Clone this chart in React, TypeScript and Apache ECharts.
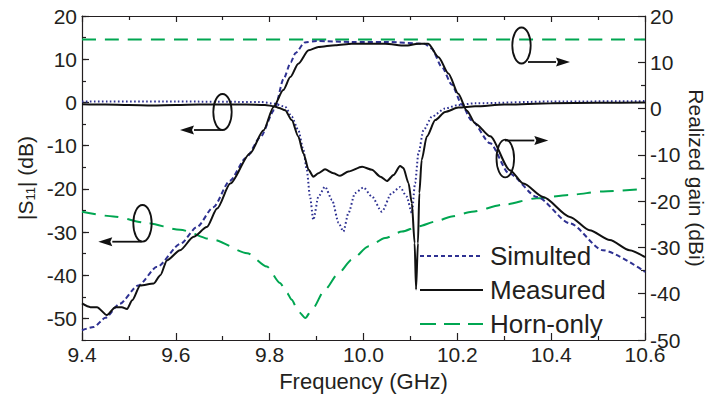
import React, { useEffect, useRef } from 'react';
import * as echarts from 'echarts';

// ---- Data ----
// Simulated realized gain (right axis, dBi)
const simGainF = [9.40, 9.425, 9.45, 9.48, 9.52, 9.56, 9.61, 9.645, 9.68, 9.715, 9.75, 9.78, 9.81, 9.83, 9.845, 9.855, 9.875, 9.90, 9.975, 10.045, 10.13, 10.145, 10.167, 10.188, 10.21, 10.23, 10.27, 10.31, 10.37, 10.44, 10.51, 10.60];
const simGainV = [-47.9, -47.2, -45.2, -42.2, -38.2, -34.2, -29.2, -25.6, -21.3, -15.6, -10.6, -6.2, -0.3, 6.5, 10.0, 12.0, 14.3, 14.6, 14.4, 14.4, 14.0, 13.0, 9.0, 5.2, 0.8, -2.5, -7.5, -14.0, -19.1, -24.8, -30.6, -35.3];

// Measured realized gain (right axis, dBi)
const measGainF = [9.40, 9.418, 9.432, 9.453, 9.471, 9.485, 9.496, 9.507, 9.524, 9.553, 9.567, 9.581, 9.609, 9.638, 9.666, 9.688, 9.716, 9.758, 9.787, 9.808, 9.829, 9.844, 9.861, 9.883, 9.904, 9.94, 9.975, 10.011, 10.046, 10.089, 10.117, 10.138, 10.16, 10.181, 10.202, 10.22, 10.238, 10.27, 10.312, 10.341, 10.383, 10.44, 10.482, 10.525, 10.567, 10.60];
const measGainV = [-42.1, -42.9, -42.9, -44.6, -42.9, -42.9, -43.3, -41.4, -38.2, -37.8, -36.0, -32.8, -30.6, -27.7, -25.6, -21.6, -16.2, -9.7, -4.7, 0.3, 4.0, 6.8, 9.7, 12.6, 13.3, 13.7, 14.0, 14.0, 14.0, 13.6, 14.0, 14.0, 11.1, 7.6, 3.2, -0.4, -3.2, -6.0, -13.3, -16.2, -19.1, -23.4, -26.3, -28.4, -30.6, -32.1];

// Simulated |S11| (left axis, dB)
const simS11F = [9.40, 9.60, 9.78, 9.81, 9.833, 9.847, 9.861, 9.872, 9.879, 9.886, 9.893, 9.904, 9.918, 9.933, 9.947, 9.957, 9.968, 9.982, 10.00, 10.018, 10.039, 10.06, 10.078, 10.092, 10.103, 10.11, 10.117, 10.128, 10.146, 10.174, 10.202, 10.238, 10.40, 10.60];
const simS11V = [0.2, 0.2, 0.1, -0.3, -1.0, -3.3, -6.4, -11.0, -15.6, -21.8, -27.2, -21.8, -19.5, -22.6, -27.9, -29.9, -25.6, -21.0, -19.7, -21.8, -25.3, -21.0, -19.6, -21.8, -25.6, -18.7, -11.8, -6.4, -3.3, -1.4, -0.6, -0.2, 0.2, 0.3];

// Measured |S11| (left axis, dB)
const measS11F = [9.40, 9.45, 9.50, 9.55, 9.60, 9.65, 9.70, 9.75, 9.79, 9.81, 9.82, 9.833, 9.847, 9.861, 9.872, 9.883, 9.893, 9.904, 9.918, 9.936, 9.95, 9.968, 9.997, 10.018, 10.036, 10.05, 10.064, 10.078, 10.085, 10.096, 10.103, 10.109, 10.112, 10.116, 10.119, 10.124, 10.135, 10.153, 10.174, 10.202, 10.238, 10.30, 10.40, 10.50, 10.60];
const measS11V = [-0.4, -0.5, -0.6, -0.7, -0.6, -0.5, -0.5, -0.5, -0.6, -0.9, -1.3, -1.8, -4.1, -7.9, -11.8, -15.6, -17.2, -16.4, -15.5, -16.4, -17.0, -16.0, -14.9, -15.6, -17.2, -18.2, -16.8, -14.7, -15.2, -18.7, -23.3, -32.6, -43.3, -32.6, -21.0, -13.3, -7.9, -4.1, -2.2, -1.2, -0.9, -0.5, -0.2, -0.1, 0.0];

// Horn-only |S11| (left axis, dB)
const hornS11F = [9.40, 9.467, 9.538, 9.609, 9.68, 9.752, 9.794, 9.822, 9.837, 9.847, 9.861, 9.876, 9.89, 9.918, 9.947, 9.975, 10.011, 10.046, 10.082, 10.117, 10.153, 10.188, 10.231, 10.298, 10.369, 10.44, 10.511, 10.60];
const hornS11V = [-25.3, -26.4, -27.9, -29.5, -31.8, -34.9, -38.0, -41.8, -44.1, -45.7, -48.4, -49.9, -48.0, -43.3, -39.5, -36.4, -33.3, -31.4, -29.9, -28.7, -27.6, -26.4, -25.3, -23.7, -22.2, -21.4, -20.6, -20.0];

// Horn-only realized gain (right axis, dBi)
const hornGainF = [9.40, 10.00, 10.60];
const hornGainV = [14.9, 14.9, 14.9];

const legendNames = ['Simulted', 'Measured', 'Horn-only'];
const leftLabelValues = [-50, -40, -30, -20, -10, 0, 10, 20];

const zip = (f: number[], v: number[]) => f.map((x, i) => [x, v[i]]);

export default function App() {
  const ref = useRef<HTMLDivElement>(null);
  useEffect(() => {
    if (!ref.current) return;
    const chart = echarts.init(ref.current, null, { renderer: 'svg' });
    const FONT = "'Liberation Sans', Arial, Helvetica, sans-serif";
    const TXT = '#231f20';
    const BLUE = '#2e3192';
    const GREEN = '#00a651';
    const BLACK = '#111111';
    const axisLine = { show: true, onZero: false, lineStyle: { color: TXT, width: 1.2 } };
    const tickStyle = { color: TXT, width: 1.2 };
    const labelStyle = { fontSize: 21, color: TXT, fontFamily: FONT };

    const lineSeries = (name: string, data: number[][], yAxisIndex: number, color: string, type: any, z = 2) => ({
      name,
      type: 'line',
      xAxisIndex: 0,
      yAxisIndex,
      data,
      symbol: 'none',
      smooth: 0.25,
      smoothMonotone: 'x',
      z,
      lineStyle: { color, width: 2, type },
      itemStyle: { color },
    });

    const ellipse = (cx: number, cy: number, rx: number, ry: number) => ({
      type: 'ellipse',
      shape: { cx, cy, rx, ry },
      style: { fill: 'transparent', stroke: BLACK, lineWidth: 1.8 },
      z: 100,
    });
    const arrow = (x1: number, x2: number, y: number) => {
      const dir = x2 > x1 ? 1 : -1;
      const hb = x2 - dir * 14;
      return [
        { type: 'line', shape: { x1, y1: y, x2: hb, y2: y }, style: { stroke: BLACK, lineWidth: 1.8 }, z: 100 },
        { type: 'polygon', shape: { points: [[x2, y], [hb, y - 4.5], [hb + dir * 2, y], [hb, y + 4.5]] }, style: { fill: BLACK }, z: 100 },
      ];
    };

    const legendColors = [BLUE, BLACK, GREEN];
    const legendDash: any[] = [[4, 3], null, [16, 8]];
    const legendY = [256, 290, 324];
    const legendGraphics: any[] = [];
    legendNames.forEach((n, i) => {
      legendGraphics.push({
        type: 'line',
        shape: { x1: 420, y1: legendY[i], x2: 483, y2: legendY[i] },
        style: { stroke: legendColors[i], lineWidth: 2, lineDash: legendDash[i] || undefined },
        z: 100,
      });
      legendGraphics.push({
        type: 'text',
        x: 490,
        y: legendY[i],
        style: { text: n, fontSize: 26, fontFamily: FONT, fill: TXT, verticalAlign: 'middle', align: 'left' },
        z: 100,
      });
    });

    const option: any = {
      animation: false,
      backgroundColor: '#ffffff',
      grid: { left: 82, right: 64, top: 16, bottom: 60, outerBoundsMode: 'none' },
      xAxis: [
        {
          type: 'value', min: 9.4, max: 10.6, interval: 0.2, position: 'bottom',
          axisLine,
          axisTick: { inside: true, length: 7, lineStyle: tickStyle },
          minorTick: { show: true, splitNumber: 2, length: 4, lineStyle: tickStyle },
          splitLine: { show: false },
          axisLabel: { ...labelStyle, margin: 4, formatter: (v: number) => v.toFixed(1) },
          name: 'Frequency (GHz)', nameLocation: 'middle', nameGap: 30, nameMoveOverlap: false,
          nameTextStyle: { fontSize: 22, color: TXT, fontFamily: FONT },
        },
        {
          type: 'value', min: 9.4, max: 10.6, interval: 0.2, position: 'top',
          axisLine,
          axisTick: { inside: true, length: 6, lineStyle: tickStyle },
          minorTick: { show: true, splitNumber: 2, length: 4, lineStyle: tickStyle },
          splitLine: { show: false },
          axisLabel: { show: false },
        },
      ],
      yAxis: [
        {
          type: 'value', min: -55, max: 20, interval: 5, position: 'left',
          axisLine,
          axisTick: { inside: true, length: 7, lineStyle: tickStyle, customValues: leftLabelValues },
          splitLine: { show: false },
          axisLabel: {
            ...labelStyle, margin: 5, customValues: leftLabelValues,
            formatter: (v: number) => (Math.round(v) % 10 === 0 ? String(Math.round(v)) : ''),
          },
          name: '|S{sub|11}| (dB)', nameLocation: 'middle', nameGap: 45, nameRotate: 90, nameMoveOverlap: false,
          nameTextStyle: {
            fontSize: 21, color: TXT, fontFamily: FONT,
            rich: { sub: { fontSize: 13, color: TXT, fontFamily: FONT, verticalAlign: 'bottom', lineHeight: 24 } },
          },
        },
        {
          type: 'value', min: -50, max: 20, interval: 10, position: 'right',
          axisLine,
          axisTick: { inside: true, length: 7, lineStyle: tickStyle },
          minorTick: { show: true, splitNumber: 2, length: 4, lineStyle: tickStyle },
          splitLine: { show: false },
          axisLabel: { ...labelStyle, margin: 5 },
          name: 'Realized gain (dBi)', nameLocation: 'middle', nameGap: 41, nameRotate: -90, nameMoveOverlap: false,
          nameTextStyle: { fontSize: 21, color: TXT, fontFamily: FONT },
        },
        {
          type: 'value', min: -55, max: 20, interval: 5, position: 'left', offset: 0,
          axisLine: { show: false, onZero: false },
          axisTick: { inside: true, length: 4, lineStyle: tickStyle },
          splitLine: { show: false },
          axisLabel: { show: false },
        },
      ],
      series: [
        lineSeries('Simulted', zip(simGainF, simGainV), 1, BLUE, [5, 3], 3),
        lineSeries('Simulted', zip(simS11F, simS11V), 0, BLUE, [1.6, 2.4], 3),
        lineSeries('Measured', zip(measGainF, measGainV), 1, BLACK, 'solid', 4),
        lineSeries('Measured', zip(measS11F, measS11V), 0, BLACK, 'solid', 4),
        lineSeries('Horn-only', zip(hornGainF, hornGainV), 1, GREEN, [14, 9], 2),
        lineSeries('Horn-only', zip(hornS11F, hornS11V), 0, GREEN, [14, 9], 2),
      ],
      graphic: [
        ellipse(222.5, 112, 9.2, 18),
        ...arrow(221.7, 180, 130),
        ellipse(142.5, 223.3, 9.2, 18.3),
        ...arrow(141.7, 98.3, 241.7),
        ellipse(521.5, 45.5, 9.2, 18),
        ...arrow(528, 570, 62),
        ellipse(505.3, 158.5, 8.8, 18.8),
        ...arrow(505, 548.3, 140.5),
        ...legendGraphics,
      ],
    };
    chart.setOption(option);
    return () => chart.dispose();
  }, []);

  return (
    <div
      ref={ref}
      style={{ position: 'fixed', left: 0, top: 0, width: 709, height: 400, background: '#fff' }}
    />
  );
}
